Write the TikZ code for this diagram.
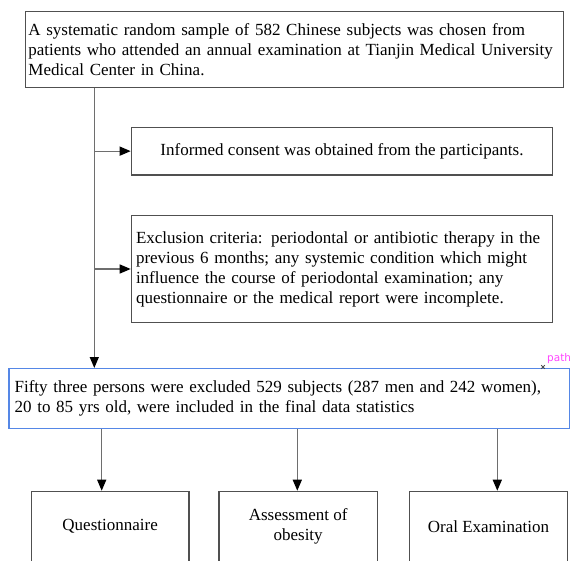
\documentclass[tikz,border=0pt]{standalone}
\usepackage{fontspec}
\setmainfont{Liberation Serif}
\newfontfamily\tagfont{DejaVu Sans}
\usetikzlibrary{arrows.meta}
\definecolor{boxgray}{RGB}{80,80,80}
\definecolor{linegray}{RGB}{110,110,110}
\definecolor{selblue}{RGB}{85,135,230}
\definecolor{tagpink}{RGB}{255,70,255}
\tikzset{
  box/.style={draw=boxgray, line width=1.3pt, inner sep=0pt, anchor=north west,
    font=\fontsize{17}{20}\selectfont},
  arr/.style={draw=linegray, line width=1.3pt,
    -{Triangle[length=11pt,width=9pt,color=black]}}
}
\begin{document}
\begin{tikzpicture}[x=1pt,y=-1pt]
  \useasboundingbox (0,0) rectangle (573,560);
  % boxes
  \node[box, text width=532pt, inner xsep=2.75pt, minimum height=76pt, align=left]
    (sample) at (25,10.7) {A systematic random sample of 582 Chinese subjects was chosen from\\
    patients who attended an annual examination at Tianjin Medical University\\
    Medical Center in China.};
  \node[box, minimum width=421.3pt, minimum height=47.6pt]
    (consent) at (130.7,126.7) {Informed consent was obtained from the participants.};
  \node[box, text width=412pt, inner xsep=4.65pt, minimum height=106.7pt, align=left]
    (exclusion) at (130.7,215) {Exclusion criteria: periodontal or antibiotic therapy in the\\
    previous 6 months; any systemic condition which might\\
    influence the course of periodontal examination; any\\
    questionnaire or the medical report were incomplete.};
  \node[box, draw=selblue, text width=549pt, inner xsep=5.7pt, minimum height=59.5pt, align=left]
    (included) at (8.3,368) {Fifty three persons were excluded 529 subjects (287 men and 242 women),\\
    20 to 85 yrs old, were included in the final data statistics};
  \node[box, minimum width=157.6pt, minimum height=70.3pt, align=center]
    (quest) at (30.7,490.7) {Questionnaire};
  \node[box, minimum width=158.4pt, minimum height=70.3pt, align=center]
    (obesity) at (218.3,490.7) {Assessment of\\obesity};
  \node[box, minimum width=157.7pt, minimum height=70.3pt, align=center]
    (oral) at (409,490.7) {Oral Examination};
  % editor tag
  \node[font=\tagfont\fontsize{10.5}{10.5}\selectfont, text=tagpink, anchor=base west, inner sep=0pt]
    (tag) at (547,361) {path};
  \coordinate (mark) at (543,367);
  \draw[boxgray, line width=0.9pt] ([shift={(-1.8,-1.8)}]mark) -- ([shift={(1.8,1.8)}]mark)
    ([shift={(-1.8,1.8)}]mark) -- ([shift={(1.8,-1.8)}]mark);
  % connectors
  \coordinate (trunk) at (94.3,0);
  \coordinate (qx) at (101.7,0);
  \coordinate (ax) at (297.3,0);
  \coordinate (ox) at (497.3,0);
  \begin{scope}
    \draw[arr] (sample.south -| trunk) -- (included.north -| trunk);
    \draw[arr] (consent.west -| trunk) -- (consent.west);
    \draw[arr] (exclusion.west -| trunk) -- (exclusion.west);
    \draw[arr] (included.south -| qx) -- (quest.north -| qx);
    \draw[arr] (included.south -| ax) -- (obesity.north -| ax);
    \draw[arr] (included.south -| ox) -- (oral.north -| ox);
  \end{scope}
\end{tikzpicture}
\end{document}
